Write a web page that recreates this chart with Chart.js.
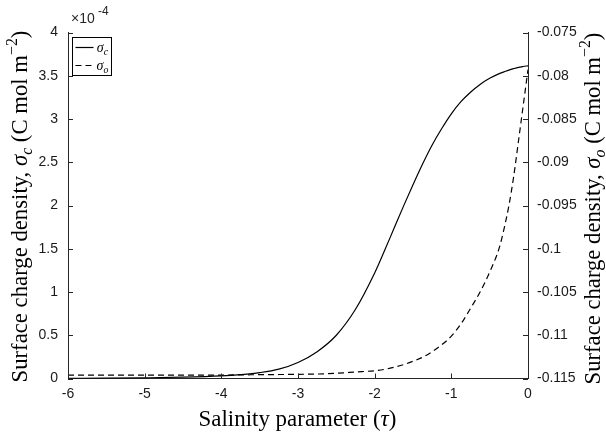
<!DOCTYPE html>
<html>
<head>
<meta charset="utf-8">
<script src="https://cdn.jsdelivr.net/npm/chart.js@4.4.0/dist/chart.umd.min.js"></script>
<style>
  html, body { margin: 0; padding: 0; background: #fff; }
</style>
</head>
<body>
<canvas id="chart" width="606" height="437"></canvas>
<script>
// salinity parameter tau
const tau = [-6, -5.5, -5, -4.5, -4, -3.75, -3.5, -3.25, -3, -2.75, -2.5, -2.25, -2, -1.875, -1.75, -1.625, -1.5,
  -1.375, -1.25, -1.125, -1, -0.875, -0.75, -0.625, -0.5, -0.375, -0.3125, -0.25, -0.1875, -0.125, -0.0625, 0];
// sigma_c, in units of 1e-4 C mol m^-2 (left axis)
const sigmaC = [0.002, 0.004, 0.008, 0.015, 0.03, 0.045, 0.068, 0.108, 0.185, 0.31, 0.5, 0.8, 1.22, 1.47, 1.73,
  1.99, 2.24, 2.48, 2.7, 2.89, 3.06, 3.2, 3.31, 3.4, 3.47, 3.525, 3.545, 3.565, 3.582, 3.597, 3.607, 3.615];
// sigma_o, C mol m^-2 (right axis)
const sigmaO = [-0.1146, -0.1146, -0.1146, -0.1146, -0.1146, -0.11458, -0.11456, -0.11454, -0.11452, -0.11448,
  -0.1144, -0.11425, -0.1141, -0.11395, -0.1137, -0.1134, -0.1130, -0.11255, -0.1119, -0.1111, -0.1101, -0.1087,
  -0.1069, -0.1050, -0.1027, -0.0999, -0.0977, -0.09505, -0.0917, -0.0876, -0.08344, -0.0793];

const xTicks = [-6, -5, -4, -3, -2, -1, 0];
const leftTicks = [0, 0.5, 1, 1.5, 2, 2.5, 3, 3.5, 4];
const rightTicks = [-0.115, -0.11, -0.105, -0.1, -0.095, -0.09, -0.085, -0.08, -0.075];

const AXIS = '#262626';
const SERIF = '"Liberation Serif", "DejaVu Serif", serif';
const SANS = '"Liberation Sans", Arial, sans-serif';

Chart.defaults.font.family = SANS;
Chart.defaults.font.size = 14;
Chart.defaults.color = AXIS;

// draws a row of text pieces (with sub/superscripts) centred on 0,0;
// if fit is given the font size is scaled so the row is that wide
function richText(ctx, parts, size, fit) {
  const fontOf = (p, s) => `${p.it ? 'italic ' : ''}${p.sub || p.sup ? s * 0.7 : s}px ${SERIF}`;
  const measure = s => parts.reduce((sum, p) => { ctx.font = fontOf(p, s); p.w = ctx.measureText(p.t).width; return sum + p.w; }, 0);
  let total = measure(size);
  if (fit) { size = size * fit / total; total = measure(size); }
  let x = -total / 2;
  ctx.textBaseline = 'alphabetic';
  ctx.textAlign = 'left';
  parts.forEach(p => {
    ctx.font = fontOf(p, size);
    const dy = p.sub ? size * 0.22 : p.sup ? -size * 0.42 : 0;
    ctx.fillText(p.t, x, dy);
    x += p.w;
  });
}

const labelsPlugin = {
  id: 'labels',
  afterDraw(chart) {
    const { ctx, chartArea: a, scales } = chart;
    ctx.save();
    ctx.fillStyle = '#000';

    // x title
    ctx.save();
    ctx.translate((a.left + a.right) / 2 - 0.5, 426);
    richText(ctx, [{ t: 'Salinity parameter (' }, { t: 'τ', it: true }, { t: ')' }], 20, 198);
    ctx.restore();

    // left y title
    const cy = (a.top + a.bottom) / 2;
    ctx.save();
    ctx.translate(27, cy + 1);
    ctx.rotate(-Math.PI / 2);
    richText(ctx, [{ t: 'Surface charge density, ' }, { t: 'σ', it: true }, { t: 'c', it: true, sub: true },
      { t: ' (C mol m' }, { t: '−2', sup: true }, { t: ')' }], 20, 352);
    ctx.restore();

    // right y title
    ctx.save();
    ctx.translate(600, cy + 3);
    ctx.rotate(-Math.PI / 2);
    richText(ctx, [{ t: 'Surface charge density, ' }, { t: 'σ', it: true }, { t: 'o', it: true, sub: true },
      { t: ' (C mol m' }, { t: '−2', sup: true }, { t: ')' }], 20, 352);
    ctx.restore();

    // exponent above left axis
    ctx.fillStyle = AXIS;
    ctx.textBaseline = 'alphabetic';
    ctx.textAlign = 'left';
    ctx.font = `14px ${SANS}`;
    ctx.fillText('×10', 71, 23);
    ctx.font = `12px ${SANS}`;
    ctx.fillText('-4', 98, 15);

    // inward ticks
    ctx.strokeStyle = AXIS;
    ctx.lineWidth = 1;
    ctx.beginPath();
    scales.x.ticks.forEach(t => {
      const x = Math.round(scales.x.getPixelForValue(t.value)) + 0.5;
      ctx.moveTo(x, a.bottom); ctx.lineTo(x, a.bottom - 5);
    });
    scales.y.ticks.forEach(t => {
      const y = Math.round(scales.y.getPixelForValue(t.value)) + 0.5;
      ctx.moveTo(a.left, y); ctx.lineTo(a.left + 5, y);
    });
    scales.y1.ticks.forEach(t => {
      const y = Math.round(scales.y1.getPixelForValue(t.value)) + 0.5;
      ctx.moveTo(a.right, y); ctx.lineTo(a.right - 5, y);
    });
    ctx.stroke();

    // legend box
    const bx = 72.5, by = 37.5, bw = 39, bh = 38;
    ctx.fillStyle = '#fff';
    ctx.fillRect(bx, by, bw, bh);
    ctx.strokeStyle = '#000';
    ctx.strokeRect(bx, by, bw, bh);
    chart.data.datasets.forEach((ds, i) => {
      const y = by + 10 + i * 18;
      ctx.save();
      ctx.strokeStyle = ds.borderColor;
      ctx.lineWidth = ds.borderWidth;
      ctx.setLineDash(ds.borderDash || []);
      ctx.beginPath();
      ctx.moveTo(bx + 3, y); ctx.lineTo(bx + 21, y);
      ctx.stroke();
      ctx.restore();
      ctx.save();
      ctx.fillStyle = '#000';
      ctx.translate(bx + 30, y + 4);
      richText(ctx, [{ t: 'σ', it: true }, { t: ds.label, it: true, sub: true }], 14);
      ctx.restore();
    });
    ctx.restore();
  }
};

const axisBase = {
  type: 'linear',
  grid: { display: false, drawTicks: false },
  border: { display: true, color: AXIS, width: 1 }
};

new Chart(document.getElementById('chart'), {
  type: 'line',
  data: {
    datasets: [
      {
        label: 'c',
        data: tau.map((t, i) => ({ x: t, y: sigmaC[i] })),
        yAxisID: 'y',
        borderColor: '#000',
        borderWidth: 1.2,
        pointRadius: 0,
        cubicInterpolationMode: 'monotone'
      },
      {
        label: 'o',
        data: tau.map((t, i) => ({ x: t, y: sigmaO[i] })),
        yAxisID: 'y1',
        borderColor: '#000',
        borderWidth: 1.2,
        borderDash: [6, 4],
        pointRadius: 0,
        cubicInterpolationMode: 'monotone'
      }
    ]
  },
  options: {
    responsive: false,
    animation: false,
    devicePixelRatio: 1,
    layout: { padding: { top: 32.5, left: 0, right: 0, bottom: 0 } },
    plugins: { legend: { display: false }, tooltip: { enabled: false } },
    scales: {
      x: {
        ...axisBase, position: 'bottom', min: -6, max: 0,
        afterBuildTicks: s => { s.ticks = xTicks.map(v => ({ value: v })); },
        afterFit: s => { s.height = 58.5; },
        ticks: { padding: 7, maxRotation: 0, color: '#1a1a1a', callback: v => String(v) }
      },
      y: {
        ...axisBase, position: 'left', min: 0, max: 4,
        afterBuildTicks: s => { s.ticks = leftTicks.map(v => ({ value: v })); },
        afterFit: s => { s.width = 68; },
        ticks: { padding: 10, color: '#1a1a1a', callback: v => String(v) }
      },
      y1: {
        ...axisBase, position: 'right', min: -0.115, max: -0.075,
        afterBuildTicks: s => { s.ticks = rightTicks.map(v => ({ value: v })); },
        afterFit: s => { s.width = 78; },
        ticks: { padding: 9, color: '#1a1a1a', callback: v => String(+v.toFixed(3)) }
      }
    }
  },
  plugins: [labelsPlugin]
});
</script>
</body>
</html>
